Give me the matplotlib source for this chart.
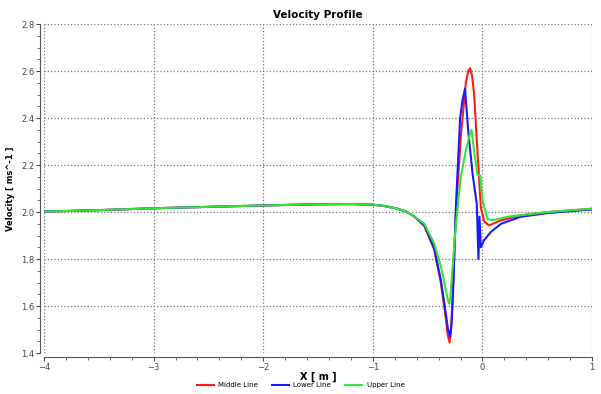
import matplotlib.pyplot as plt
import numpy as np
from matplotlib.ticker import MultipleLocator

# shared far-field part of the profile (all three lines coincide here)
x_far = [-4.0, -3.5, -3.0, -2.5, -2.0, -1.5, -1.2, -1.0, -0.9, -0.8, -0.7, -0.625]
y_far = [2.002, 2.008, 2.016, 2.022, 2.028, 2.033, 2.034, 2.031, 2.026, 2.017, 2.003, 1.982]

# Middle Line
x_mid = [-0.53, -0.44, -0.38, -0.335, -0.318, -0.30, -0.286, -0.274, -0.244, -0.198, -0.152,
         -0.13, -0.113, -0.095, -0.076, -0.046, -0.015, 0.015, 0.06, 0.17, 0.35, 0.6, 1.0]
y_mid = [1.94, 1.84, 1.70, 1.55, 1.48, 1.445, 1.50, 1.62, 1.98, 2.32, 2.55,
         2.60, 2.612, 2.58, 2.50, 2.26, 2.02, 1.96, 1.943, 1.965, 1.986, 2.0, 2.014]

# Lower Line
x_low = [-0.53, -0.44, -0.38, -0.335, -0.314, -0.296, -0.28, -0.265, -0.244, -0.204, -0.183,
         -0.159, -0.131, -0.09, -0.052, -0.037, -0.027, -0.015, 0.015, 0.076, 0.17, 0.35, 0.6, 1.0]
y_low = [1.945, 1.845, 1.71, 1.57, 1.50, 1.468, 1.54, 1.70, 2.01, 2.40, 2.475,
         2.525, 2.35, 2.16, 2.035, 1.80, 1.98, 1.85, 1.88, 1.915, 1.95, 1.98, 1.996, 2.011]

# Upper Line
x_up = [-0.53, -0.44, -0.38, -0.335, -0.318, -0.305, -0.292, -0.284, -0.244, -0.198, -0.152,
        -0.122, -0.10, -0.076, -0.046, -0.02, 0.0, 0.046, 0.09, 0.23, 0.6, 1.0]
y_up = [1.95, 1.865, 1.77, 1.67, 1.63, 1.61, 1.64, 1.695, 1.94, 2.15, 2.26,
        2.32, 2.35, 2.26, 2.16, 2.155, 2.05, 1.97, 1.965, 1.98, 2.0, 2.014]

fig = plt.figure(figsize=(6.01, 3.94), dpi=100)
ax = fig.add_axes([0.0732, 0.104, 0.912, 0.835])

ax.plot(x_far + x_mid, y_far + y_mid, color='#ff1a1a', lw=1.5, label='Middle Line')
ax.plot(x_far + x_low, y_far + y_low, color='#1a1aff', lw=1.5, label='Lower Line')
ax.plot(x_far + x_up, y_far + y_up, color='#33e633', lw=1.5, label='Upper Line')

ax.set_xlim(-4, 1)
ax.set_ylim(1.4, 2.8)
ax.xaxis.set_major_locator(MultipleLocator(1))
ax.xaxis.set_minor_locator(MultipleLocator(0.2))
ax.yaxis.set_major_locator(MultipleLocator(0.2))
ax.yaxis.set_minor_locator(MultipleLocator(0.05))
ax.grid(True, which='major', color='#777777', linestyle=':', linewidth=0.9)

for s in ['top', 'right']:
    ax.spines[s].set_visible(False)
for s in ['left', 'bottom']:
    ax.spines[s].set_position(('outward', 3))
    ax.spines[s].set_color('#555555')

ax.tick_params(which='major', labelsize=6, colors='#444444', length=3, width=0.8, pad=1)
ax.tick_params(which='minor', length=2, width=0.6, colors='#555555')

ax.set_title('Velocity Profile', fontsize=7.5, fontweight='bold', pad=4)
ax.set_xlabel('X [ m ]', fontsize=7, fontweight='bold', labelpad=0)
ax.set_ylabel('Velocity [ ms^-1 ]', fontsize=6, fontweight='bold', labelpad=4)

fig.legend(loc='center', bbox_to_anchor=(0.5, 0.022), ncol=3, frameon=False,
           fontsize=5, handlelength=2.5, columnspacing=2, borderpad=0, handletextpad=0.6)

fig.savefig('out.png', dpi=100)
